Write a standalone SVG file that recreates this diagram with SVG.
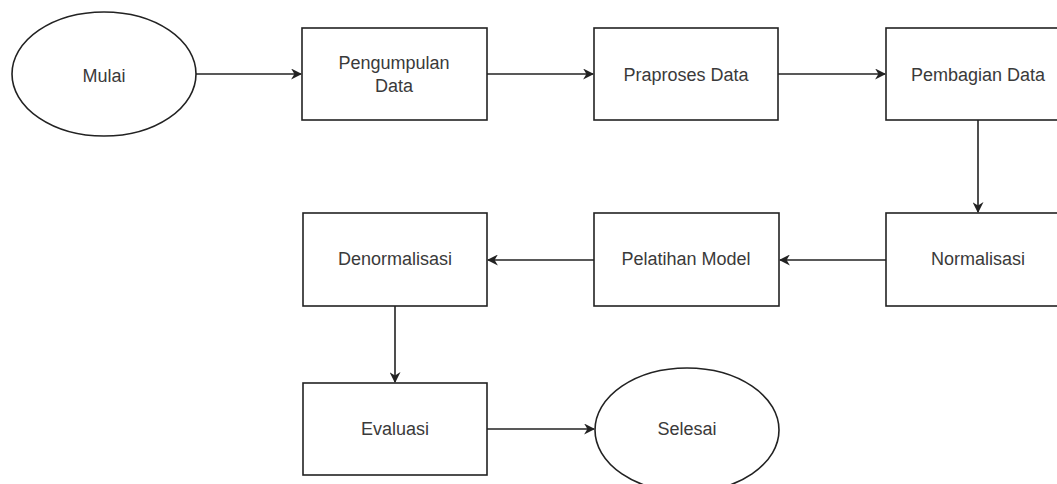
<svg xmlns="http://www.w3.org/2000/svg" width="1057" height="484" viewBox="0 0 1057 484">
<style>
.n{fill:#fff;stroke:#222;stroke-width:1.6}
.t{font-family:"Liberation Sans",Arial,sans-serif;font-size:18px;fill:#3a3a3a;text-anchor:middle;dominant-baseline:central}
.c{fill:none;stroke:#222;stroke-width:1.6;marker-end:url(#a)}
</style>
<defs>
<marker id="a" viewBox="0 0 10 10" refX="9" refY="5" markerWidth="11" markerHeight="11" markerUnits="userSpaceOnUse" orient="auto">
<path d="M0,0 L10,5 L0,10 L3,5 Z" fill="#222"/>
</marker>
</defs>
<rect width="1057" height="484" fill="#fff"/>
<g id="connectors">
<line class="c" x1="196" y1="74" x2="301" y2="74"/>
<line class="c" x1="487" y1="74" x2="593" y2="74"/>
<line class="c" x1="778" y1="74" x2="885" y2="74"/>
<line class="c" x1="978" y1="120" x2="978" y2="212"/>
<line class="c" x1="886" y1="260" x2="780" y2="260"/>
<line class="c" x1="594" y1="260" x2="488" y2="260"/>
<line class="c" x1="395" y1="306" x2="395" y2="382"/>
<line class="c" x1="487" y1="429" x2="594" y2="429"/>
</g>
<g id="mulai"><ellipse class="n" cx="104" cy="74" rx="92" ry="62"/><text class="t" x="104" y="76">Mulai</text></g>
<g id="pengumpulan"><rect class="n" x="302" y="28" width="185" height="92"/><text class="t" x="394" y="63">Pengumpulan</text><text class="t" x="394" y="86">Data</text></g>
<g id="praproses"><rect class="n" x="594" y="28" width="184" height="92"/><text class="t" x="686" y="75">Praproses Data</text></g>
<g id="pembagian"><rect class="n" x="886" y="28" width="185" height="92"/><text class="t" x="978" y="75">Pembagian Data</text></g>
<g id="normalisasi"><rect class="n" x="886" y="213" width="185" height="93"/><text class="t" x="978" y="259">Normalisasi</text></g>
<g id="pelatihan"><rect class="n" x="594" y="213" width="185" height="93"/><text class="t" x="686" y="259">Pelatihan Model</text></g>
<g id="denormalisasi"><rect class="n" x="303" y="213" width="184" height="93"/><text class="t" x="395" y="259">Denormalisasi</text></g>
<g id="evaluasi"><rect class="n" x="303" y="383" width="184" height="92"/><text class="t" x="395" y="429">Evaluasi</text></g>
<g id="selesai"><ellipse class="n" cx="687" cy="430" rx="92" ry="62"/><text class="t" x="687" y="429">Selesai</text></g>
</svg>
